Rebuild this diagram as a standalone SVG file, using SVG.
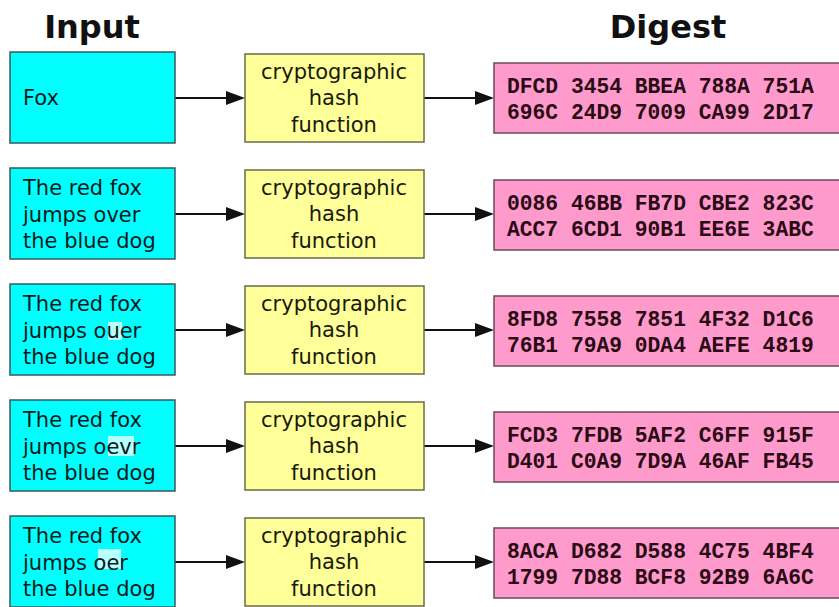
<svg xmlns="http://www.w3.org/2000/svg" width="839" height="607" viewBox="0 0 839 607">
<defs>
<style>
.in{fill:#00ffff;stroke:#3a5a5a;stroke-width:1.5}
.fn{fill:#ffff99;stroke:#6b6b4a;stroke-width:1.5}
.dg{fill:#ff9acc;stroke:#6b4a5a;stroke-width:1.5}
.t{font-family:"DejaVu Sans",sans-serif;font-size:21px;fill:#0a1a1a}
.c{font-family:"DejaVu Sans",sans-serif;font-size:21px;fill:#1a1a0a;text-anchor:middle}
.h{font-family:"Liberation Mono","Courier New",monospace;font-weight:bold;font-size:21.3px;fill:#2a0a14}
.title{font-family:"DejaVu Sans",sans-serif;font-weight:bold;font-size:32px;fill:#111;text-anchor:middle}
.hl{fill:#b8ffff}
.ln{stroke:#111;stroke-width:2;fill:none}
</style>
</defs>
<rect width="839" height="607" fill="#ffffff"/>
<text class="title" x="92" y="38">Input</text>
<text class="title" x="668" y="38">Digest</text>

<g id="connectors">
<line class="ln" x1="175" y1="98" x2="228" y2="98"/><path d="M226,91 L245,98 L226,105 z" fill="#111"/>
<line class="ln" x1="424" y1="98" x2="477" y2="98"/><path d="M475,91 L494,98 L475,105 z" fill="#111"/>
<line class="ln" x1="175" y1="214" x2="228" y2="214"/><path d="M226,207 L245,214 L226,221 z" fill="#111"/>
<line class="ln" x1="424" y1="214" x2="477" y2="214"/><path d="M475,207 L494,214 L475,221 z" fill="#111"/>
<line class="ln" x1="175" y1="330" x2="228" y2="330"/><path d="M226,323 L245,330 L226,337 z" fill="#111"/>
<line class="ln" x1="424" y1="330" x2="477" y2="330"/><path d="M475,323 L494,330 L475,337 z" fill="#111"/>
<line class="ln" x1="175" y1="446" x2="228" y2="446"/><path d="M226,439 L245,446 L226,453 z" fill="#111"/>
<line class="ln" x1="424" y1="446" x2="477" y2="446"/><path d="M475,439 L494,446 L475,453 z" fill="#111"/>
<line class="ln" x1="175" y1="562" x2="228" y2="562"/><path d="M226,555 L245,562 L226,569 z" fill="#111"/>
<line class="ln" x1="424" y1="562" x2="477" y2="562"/><path d="M475,555 L494,562 L475,569 z" fill="#111"/>
</g>

<g id="input1"><rect class="in" x="10" y="52" width="165" height="91"/><text class="t" x="23" y="105">Fox</text></g>
<g id="input2"><rect class="in" x="10" y="168" width="165" height="91"/><text class="t" x="23" y="195">The red fox</text><text class="t" x="23" y="222">jumps over</text><text class="t" x="23" y="248">the blue dog</text></g>
<g id="input3"><rect class="in" x="10" y="284" width="165" height="91"/><rect class="hl" x="108" y="322" width="14" height="18"/><text class="t" x="23" y="311">The red fox</text><text class="t" x="23" y="338">jumps ouer</text><text class="t" x="23" y="364">the blue dog</text></g>
<g id="input4"><rect class="in" x="10" y="400" width="165" height="91"/><rect class="hl" x="108" y="436" width="26" height="20"/><text class="t" x="23" y="427">The red fox</text><text class="t" x="23" y="454">jumps oevr</text><text class="t" x="23" y="480">the blue dog</text></g>
<g id="input5"><rect class="in" x="10" y="516" width="165" height="91"/><rect class="hl" x="98" y="549" width="23" height="20"/><text class="t" x="23" y="543">The red fox</text><text class="t" x="23" y="570">jumps oer</text><text class="t" x="23" y="596">the blue dog</text></g>

<g id="hash1"><rect class="fn" x="245" y="54" width="179" height="88"/><text class="c" x="334" y="79">cryptographic</text><text class="c" x="334" y="105">hash</text><text class="c" x="334" y="132">function</text></g>
<g id="hash2"><rect class="fn" x="245" y="170" width="179" height="88"/><text class="c" x="334" y="195">cryptographic</text><text class="c" x="334" y="221">hash</text><text class="c" x="334" y="248">function</text></g>
<g id="hash3"><rect class="fn" x="245" y="286" width="179" height="88"/><text class="c" x="334" y="311">cryptographic</text><text class="c" x="334" y="337">hash</text><text class="c" x="334" y="364">function</text></g>
<g id="hash4"><rect class="fn" x="245" y="402" width="179" height="88"/><text class="c" x="334" y="427">cryptographic</text><text class="c" x="334" y="453">hash</text><text class="c" x="334" y="480">function</text></g>
<g id="hash5"><rect class="fn" x="245" y="518" width="179" height="88"/><text class="c" x="334" y="543">cryptographic</text><text class="c" x="334" y="569">hash</text><text class="c" x="334" y="596">function</text></g>

<g id="digest1"><rect class="dg" x="494" y="63" width="360" height="70"/><text class="h" x="507" y="93">DFCD 3454 BBEA 788A 751A</text><text class="h" x="507" y="119">696C 24D9 7009 CA99 2D17</text></g>
<g id="digest2"><rect class="dg" x="494" y="180" width="360" height="70"/><text class="h" x="507" y="210">0086 46BB FB7D CBE2 823C</text><text class="h" x="507" y="236">ACC7 6CD1 90B1 EE6E 3ABC</text></g>
<g id="digest3"><rect class="dg" x="494" y="296" width="360" height="70"/><text class="h" x="507" y="326">8FD8 7558 7851 4F32 D1C6</text><text class="h" x="507" y="352">76B1 79A9 0DA4 AEFE 4819</text></g>
<g id="digest4"><rect class="dg" x="494" y="412" width="360" height="70"/><text class="h" x="507" y="442">FCD3 7FDB 5AF2 C6FF 915F</text><text class="h" x="507" y="468">D401 C0A9 7D9A 46AF FB45</text></g>
<g id="digest5"><rect class="dg" x="494" y="528" width="360" height="70"/><text class="h" x="507" y="558">8ACA D682 D588 4C75 4BF4</text><text class="h" x="507" y="584">1799 7D88 BCF8 92B9 6A6C</text></g>
</svg>
